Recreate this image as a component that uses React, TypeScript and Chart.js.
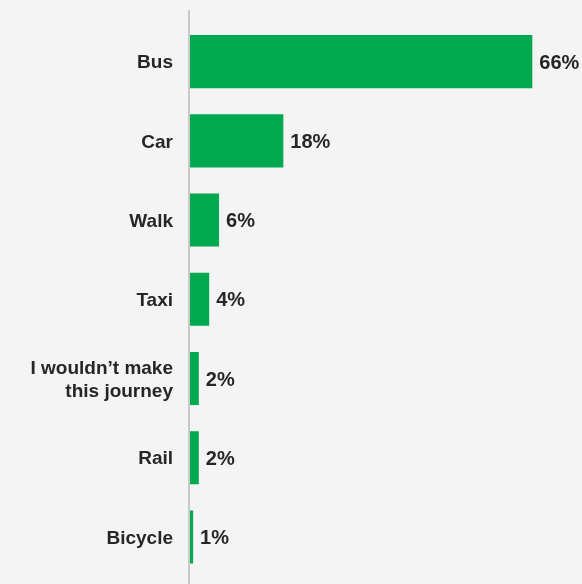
import React, { useEffect, useRef } from "react";
import { Chart, registerables } from "chart.js";

Chart.register(...registerables);

const categories: (string | string[])[] = [
  "Bus",
  "Car",
  "Walk",
  "Taxi",
  ["I wouldn\u2019t make", "this journey"],
  "Rail",
  "Bicycle",
];
const values = [66, 18, 5.6, 3.7, 1.7, 1.7, 0.6];
const valueLabels = ["66%", "18%", "6%", "4%", "2%", "2%", "1%"];

const BG = "#f4f4f4";
const GREEN = "#00a84f";
const TEXT = "#262626";
const FONT = "'Liberation Sans', Arial, Helvetica, sans-serif";

const bgPlugin = {
  id: "bgFill",
  beforeDraw(chart: any) {
    const ctx = chart.ctx;
    ctx.save();
    ctx.fillStyle = BG;
    ctx.fillRect(0, 0, chart.width, chart.height);
    ctx.restore();
  },
};

const axisLinePlugin = {
  id: "axisLine",
  afterDatasetsDraw(chart: any) {
    const ctx = chart.ctx;
    const x = chart.chartArea.left - 1;
    ctx.save();
    ctx.strokeStyle = "#c9c9c9";
    ctx.lineWidth = 2;
    ctx.beginPath();
    ctx.moveTo(x, 10);
    ctx.lineTo(x, chart.height);
    ctx.stroke();
    ctx.restore();
  },
};

const valueLabelPlugin = {
  id: "valueLabels",
  afterDatasetsDraw(chart: any) {
    const ctx = chart.ctx;
    const meta = chart.getDatasetMeta(0);
    ctx.save();
    ctx.fillStyle = TEXT;
    ctx.font = `bold 20px ${FONT}`;
    ctx.textAlign = "left";
    ctx.textBaseline = "middle";
    meta.data.forEach((bar: any, i: number) => {
      ctx.fillText(valueLabels[i], bar.x + 7, bar.y + 1.5);
    });
    ctx.restore();
  },
};

export default function App() {
  const ref = useRef<HTMLCanvasElement | null>(null);

  useEffect(() => {
    document.body.style.margin = "0";
    document.body.style.background = BG;
    if (!ref.current) return;
    const chart = new Chart(ref.current, {
      type: "bar",
      data: {
        labels: categories,
        datasets: [
          {
            data: values,
            backgroundColor: GREEN,
            borderWidth: 0,
            barPercentage: 0.67,
            categoryPercentage: 1,
          },
        ],
      },
      options: {
        indexAxis: "y",
        animation: false,
        responsive: false,
        maintainAspectRatio: false,
        layout: { padding: { top: 22, bottom: 7.4, left: 0, right: 3 } },
        plugins: {
          legend: { display: false },
          tooltip: { enabled: false },
        },
        scales: {
          x: {
            display: false,
            min: 0,
            max: 75,
          },
          y: {
            afterFit(scale: any) {
              scale.width = 190;
              scale.paddingTop = 0;
              scale.paddingBottom = 0;
            },
            grid: { display: false, drawTicks: false },
            border: { display: false },
            ticks: {
              padding: 17,
              labelOffset: 1.5,
              color: TEXT,
              font: { family: FONT, size: 19, weight: "bold", lineHeight: 1.22 },
            },
          },
        },
      },
      plugins: [bgPlugin, axisLinePlugin, valueLabelPlugin],
    });
    return () => chart.destroy();
  }, []);

  return (
    <div style={{ position: "fixed", left: 0, top: 0, width: 582, height: 584, background: BG }}>
      <canvas ref={ref} width={582} height={584} style={{ display: "block" }} />
    </div>
  );
}
